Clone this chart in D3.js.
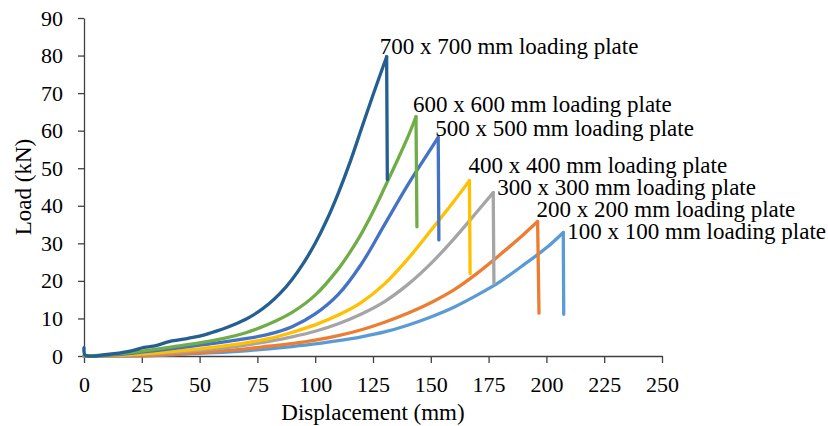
<!DOCTYPE html>
<html>
<head>
<meta charset="utf-8">
<script src="https://cdn.jsdelivr.net/npm/d3@7/dist/d3.min.js"></script>
<style>
  html, body { margin: 0; padding: 0; background: #fff; }
  svg { display: block; font-family: "Liberation Serif", "Times New Roman", serif; }
  .axis path, .axis line { stroke: #404040; stroke-width: 1.3px; }
  .axis text { fill: #000; font-size: 22px; font-family: "Liberation Serif", serif; }
  .title { font-size: 23px; fill: #000; }
  .plate-label { font-size: 23px; fill: #000; }
</style>
</head>
<body>
<svg id="chart" width="828" height="426"></svg>
<script>
// load-displacement curves, [displacement mm, load kN]; last point is the drop after failure
const plate100 = [[0,0],[30,0.1],[40,0.4],[50,0.7],[60,1],[70,1.4],[80,1.9],[90,2.5],[100,3.2],[110,4.1],[120,5.1],[130,6.4],[140,8.2],[150,10.4],[160,13],[170,16.2],[180,19.8],[190,24.2],[200,28.8],[207.3,32.9],[207.5,11.1]];
const plate200 = [[0,0],[30,0.2],[40,0.5],[50,0.9],[60,1.4],[70,1.9],[80,2.6],[90,3.3],[100,4.2],[110,5.4],[120,7],[130,9],[140,11.4],[150,14.2],[160,17.6],[170,22],[180,27],[190,32.3],[196.2,35.8],[196.8,11.4]];
const plate300 = [[0,0],[10,0.1],[20,0.3],[30,0.6],[40,1],[50,1.5],[60,2.1],[70,2.9],[80,3.9],[90,5.1],[100,6.6],[110,8.6],[120,11.2],[130,14.5],[140,19],[150,24.6],[160,31.2],[170,38.4],[177,43.5],[177.3,19.4]];
const plate400 = [[0,0],[10,0.1],[20,0.4],[30,0.8],[40,1.3],[50,1.9],[60,2.6],[70,3.5],[80,4.6],[90,6.3],[100,8.3],[110,10.9],[120,14.3],[130,19.2],[140,25.8],[150,33.4],[160,41.2],[166.7,46.7],[167,22]];
const plate500 = [[0,0],[10,0.2],[20,0.7],[30,1.4],[40,2.1],[50,2.9],[60,3.7],[70,4.6],[80,5.8],[90,7.8],[100,11.2],[110,16.4],[120,24.5],[130,35],[140,45.5],[147,52.3],[153.2,58.2],[153.5,30.9]];
const plate600 = [[0,0],[10,0.3],[20,0.9],[30,1.7],[40,2.6],[50,3.5],[60,4.6],[70,6.2],[80,8.5],[90,11.6],[100,16.2],[110,23.2],[115,27.6],[120,32.6],[125,38.4],[130,44.8],[135,51.4],[140,58.2],[143.6,63.7],[144,34.4]];
const plate700 = [[0,2.2],[0.6,0.2],[10,0.4],[20,1.3],[26,2.3],[30,2.6],[38,4],[45,4.7],[50,5.3],[55,6.2],[60,7.2],[65,8.4],[70,9.8],[75,11.6],[80,13.9],[85,16.8],[90,20.4],[95,24.8],[100,30],[105,36.2],[110,43.4],[115,51.5],[120,60.5],[125,69.5],[130.9,79.7],[131.2,47]];

const seriesNames = ['100 x 100 mm loading plate', '200 x 200 mm loading plate', '300 x 300 mm loading plate',
  '400 x 400 mm loading plate', '500 x 500 mm loading plate', '600 x 600 mm loading plate', '700 x 700 mm loading plate'];
const seriesData = [plate100, plate200, plate300, plate400, plate500, plate600, plate700];
const seriesColors = ['#5b9bd5', '#ed7d31', '#a5a5a5', '#ffc000', '#4472c4', '#70ad47', '#255e91'];
// label nudges from each peak, px
const labelNudge = [[4, 7], [-1, -5], [4, 2], [-1, -8], [-3, -1], [-3, -5], [-7, -3]];

const xTicks = [0, 25, 50, 75, 100, 125, 150, 175, 200, 225, 250];
const yTicks = [0, 10, 20, 30, 40, 50, 60, 70, 80, 90];

const svg = d3.select('#chart');
const x = d3.scaleLinear().domain([0, 250]).range([84, 662]);
const y = d3.scaleLinear().domain([0, 90]).range([356, 18]);

svg.append('g')
  .attr('class', 'axis')
  .attr('transform', 'translate(0,356)')
  .call(d3.axisBottom(x).tickValues(xTicks).tickSize(7).tickPadding(13).tickSizeOuter(0));

svg.append('g')
  .attr('class', 'axis')
  .attr('transform', 'translate(84,0)')
  .call(d3.axisLeft(y).tickValues(yTicks).tickSize(6).tickPadding(15).tickSizeOuter(0));

const rise = d3.line().x((d) => x(d[0])).y((d) => y(d[1])).curve(d3.curveCatmullRom.alpha(0.5));
const drop = d3.line().x((d) => x(d[0])).y((d) => y(d[1]));

const curves = svg.append('g').attr('class', 'curves');
seriesData.forEach((pts, i) => {
  const g = curves.append('g');
  g.append('path')
    .attr('d', rise(pts.slice(0, -1)))
    .attr('fill', 'none')
    .attr('stroke', seriesColors[i])
    .attr('stroke-width', 3.3)
    .attr('stroke-linejoin', 'round')
    .attr('stroke-linecap', 'round');
  g.append('path')
    .attr('d', drop(pts.slice(-2)))
    .attr('fill', 'none')
    .attr('stroke', seriesColors[i])
    .attr('stroke-width', 3.3)
    .attr('stroke-linecap', 'round');
});

svg.append('g').selectAll('text')
  .data(seriesData)
  .join('text')
  .attr('class', 'plate-label')
  .attr('x', (pts, i) => x(pts[pts.length - 2][0]) + labelNudge[i][0])
  .attr('y', (pts, i) => y(pts[pts.length - 2][1]) + labelNudge[i][1])
  .text((pts, i) => seriesNames[i]);

svg.append('text')
  .attr('class', 'title')
  .attr('x', 373)
  .attr('y', 420)
  .attr('text-anchor', 'middle')
  .text('Displacement (mm)');

svg.append('text')
  .attr('class', 'title')
  .attr('transform', 'translate(31,187) rotate(-90)')
  .attr('text-anchor', 'middle')
  .text('Load (kN)');
</script>
</body>
</html>
